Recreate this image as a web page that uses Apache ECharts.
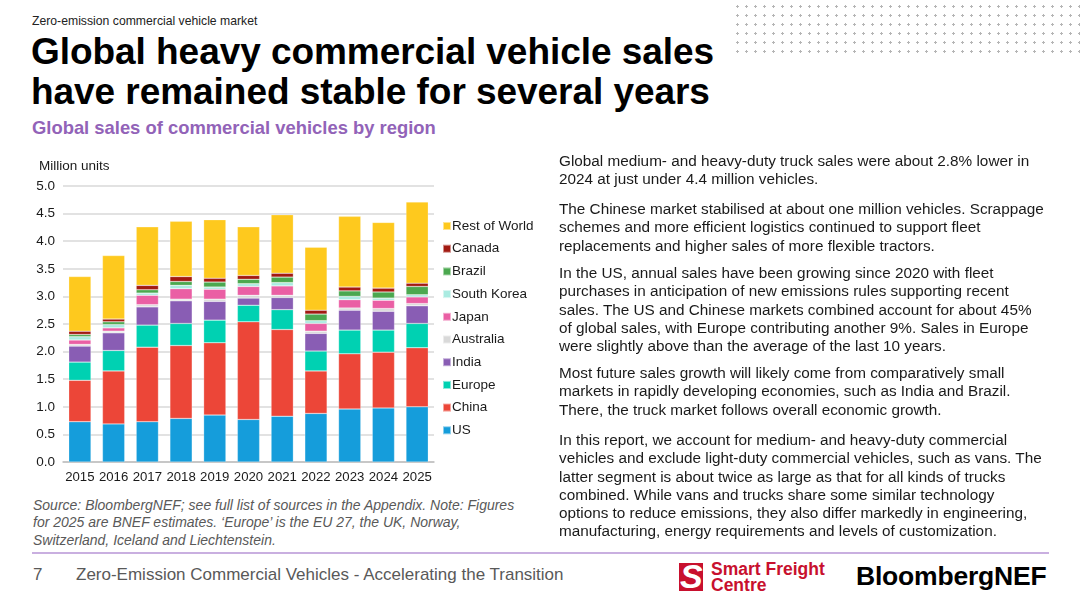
<!DOCTYPE html>
<html>
<head>
<meta charset="utf-8">
<script src="https://cdn.jsdelivr.net/npm/echarts@6/dist/echarts.min.js"></script>
<style>
  html, body { margin:0; padding:0; background:#fff; }
  body { width:1080px; height:603px; position:relative; overflow:hidden; font-family:"Liberation Sans", Arial, sans-serif; color:#1a1a1a; }
  .abs { position:absolute; white-space:nowrap; }
  #dots { position:absolute; left:733px; top:2px; width:347px; height:54px;
    background-image: radial-gradient(circle, #b5b5b5 1.1px, transparent 1.4px);
    background-size: 9px 9px; }
  #kicker { left:32px; top:14px; font-size:12.6px; color:#222; transform:scaleX(0.97); transform-origin:left; }
  .title { left:31px; font-size:37px; font-weight:bold; color:#000; letter-spacing:-0.05px; }
  #sub { left:32px; top:117px; font-size:18.4px; font-weight:bold; color:#9263b8; }
  #chart { position:absolute; left:0; top:150px; width:560px; height:345px; }
  .para { position:absolute; left:559px; font-size:15.3px; line-height:18.3px; color:#1a1a1a; white-space:nowrap; }
  #note { position:absolute; left:33px; top:497px; font-size:14px; line-height:17.3px; font-style:italic; color:#595959; white-space:nowrap; }
  #rule { position:absolute; left:32px; top:552px; width:1017px; height:2px; background:#c9afe0; }
  #pg { left:33px; top:565px; font-size:17px; color:#595959; }
  #foot { left:76px; top:565px; font-size:17px; color:#595959; }
  #sfcIcon { position:absolute; left:679px; top:563px; width:24px; height:28px; background:#c8102e; overflow:hidden; }
  #sfcIcon span { position:absolute; left:1px; top:-6px; font-size:34px; font-weight:bold; color:#fff; font-style:italic; line-height:38px; }
  #sfc { left:711px; top:561px; font-size:17.5px; line-height:16px; font-weight:bold; color:#c8102e; }
  #bnef { left:856px; top:561px; font-size:26.5px; font-weight:bold; color:#000; letter-spacing:-0.2px; }
</style>
</head>
<body>
<div id="dots"></div>
<div id="kicker" class="abs">Zero-emission commercial vehicle market</div>
<div class="abs title" style="top:31px;">Global heavy commercial vehicle sales</div>
<div class="abs title" style="top:71px;">have remained stable for several years</div>
<div id="sub" class="abs">Global sales of commercial vehicles by region</div>

<div id="chart"></div>

<div class="para" style="top:152px;">Global medium- and heavy-duty truck sales were about 2.8% lower in<br>2024 at just under 4.4 million vehicles.</div>
<div class="para" style="top:200px;">The Chinese market stabilised at about one million vehicles. Scrappage<br>schemes and more efficient logistics continued to support fleet<br>replacements and higher sales of more flexible tractors.</div>
<div class="para" style="top:264px;">In the US, annual sales have been growing since 2020 with fleet<br>purchases in anticipation of new emissions rules supporting recent<br>sales. The US and Chinese markets combined account for about 45%<br>of global sales, with Europe contributing another 9%. Sales in Europe<br>were slightly above than the average of the last 10 years.</div>
<div class="para" style="top:364px;">Most future sales growth will likely come from comparatively small<br>markets in rapidly developing economies, such as India and Brazil.<br>There, the truck market follows overall economic growth.</div>
<div class="para" style="top:431px;">In this report, we account for medium- and heavy-duty commercial<br>vehicles and exclude light-duty commercial vehicles, such as vans. The<br>latter segment is about twice as large as that for all kinds of trucks<br>combined. While vans and trucks share some similar technology<br>options to reduce emissions, they also differ markedly in engineering,<br>manufacturing, energy requirements and levels of customization.</div>

<div id="note">Source: BloombergNEF; see full list of sources in the Appendix. Note: Figures<br>for 2025 are BNEF estimates. ‘Europe’ is the EU 27, the UK, Norway,<br>Switzerland, Iceland and Liechtenstein.</div>

<div id="rule"></div>
<div id="pg" class="abs">7</div>
<div id="foot" class="abs">Zero-Emission Commercial Vehicles - Accelerating the Transition</div>
<div id="sfcIcon"><span>S</span></div>
<div id="sfc" class="abs">Smart Freight<br>Centre</div>
<div id="bnef" class="abs">BloombergNEF</div>

<script>
const years = ['2015','2016','2017','2018','2019','2020','2021','2022','2023','2024','2025'];
const yTicks = ['0.0','0.5','1.0','1.5','2.0','2.5','3.0','3.5','4.0','4.5','5.0'];

const us         = [0.73,0.69,0.73,0.79,0.85,0.77,0.83,0.88,0.96,0.98,1.00];
const china      = [0.75,0.96,1.35,1.32,1.31,1.77,1.57,0.77,1.00,1.01,1.07];
const europe     = [0.33,0.37,0.40,0.40,0.41,0.30,0.36,0.36,0.43,0.40,0.44];
const india      = [0.29,0.32,0.33,0.41,0.34,0.13,0.22,0.32,0.36,0.34,0.32];
const australia  = [0.03,0.03,0.04,0.03,0.04,0.05,0.04,0.04,0.04,0.05,0.04];
const japan      = [0.08,0.06,0.17,0.19,0.18,0.16,0.17,0.14,0.15,0.15,0.12];
const southKorea = [0.06,0.06,0.04,0.06,0.04,0.05,0.06,0.05,0.06,0.04,0.04];
const brazil     = [0.04,0.05,0.06,0.07,0.09,0.08,0.10,0.12,0.10,0.11,0.15];
const canada     = [0.06,0.05,0.08,0.09,0.07,0.07,0.07,0.07,0.07,0.07,0.06];
const restOfWorld= [0.99,1.15,1.06,1.00,1.06,0.88,1.06,1.14,1.28,1.19,1.47];

const seriesNames = ['US','China','Europe','India','Australia','Japan','South Korea','Brazil','Canada','Rest of World'];
const seriesData = [us, china, europe, india, australia, japan, southKorea, brazil, canada, restOfWorld];
const colors = ['#159ddb','#ec4638','#00d1b2','#895db4','#d9d9d9','#ea5fa4','#aaebe1','#4ba84f','#a21a12','#fec91e'];

const chart = echarts.init(document.getElementById('chart'), null, {renderer:'canvas'});
chart.setOption({
  animation: false,
  textStyle: { fontFamily: '"Liberation Sans", Arial, sans-serif' },
  title: { text: 'Million units', left: 39, top: 9, padding: 0, textStyle: { fontSize: 13.5, fontWeight: 'normal', color: '#1a1a1a' } },
  grid: { left: 63, top: 36, width: 371, height: 276 },
  legend: {
    orient: 'vertical', left: 437, top: 64,
    data: seriesNames.slice().reverse(),
    icon: 'rect', itemWidth: 8, itemHeight: 8, itemGap: 8.7,
    textStyle: { fontSize: 13.5, color: '#1a1a1a', padding: [0,0,0,-4], lineHeight: 14 }
  },
  xAxis: {
    type: 'category', data: years,
    axisTick: { show: false },
    axisLine: { lineStyle: { color: '#bfbfbf', width: 1.5 } },
    axisLabel: { interval: 0, fontSize: 13.2, color: '#1a1a1a', margin: 9 }
  },
  yAxis: {
    type: 'value', min: 0, max: 5, interval: 0.5,
    axisLabel: { fontSize: 13.5, color: '#1a1a1a', margin: 8, formatter: v => yTicks[Math.round(v / 0.5)] },
    splitLine: { lineStyle: { color: '#d9d9d9', width: 1.5 } },
    axisLine: { show: false }, axisTick: { show: false }
  },
  series: seriesNames.map((n, i) => ({
    name: n, type: 'bar', stack: 'total', data: seriesData[i],
    barWidth: '66%',
    itemStyle: { color: colors[i], borderColor: 'rgba(255,255,255,0.5)', borderWidth: 0.5 }
  }))
});
</script>
</body>
</html>
